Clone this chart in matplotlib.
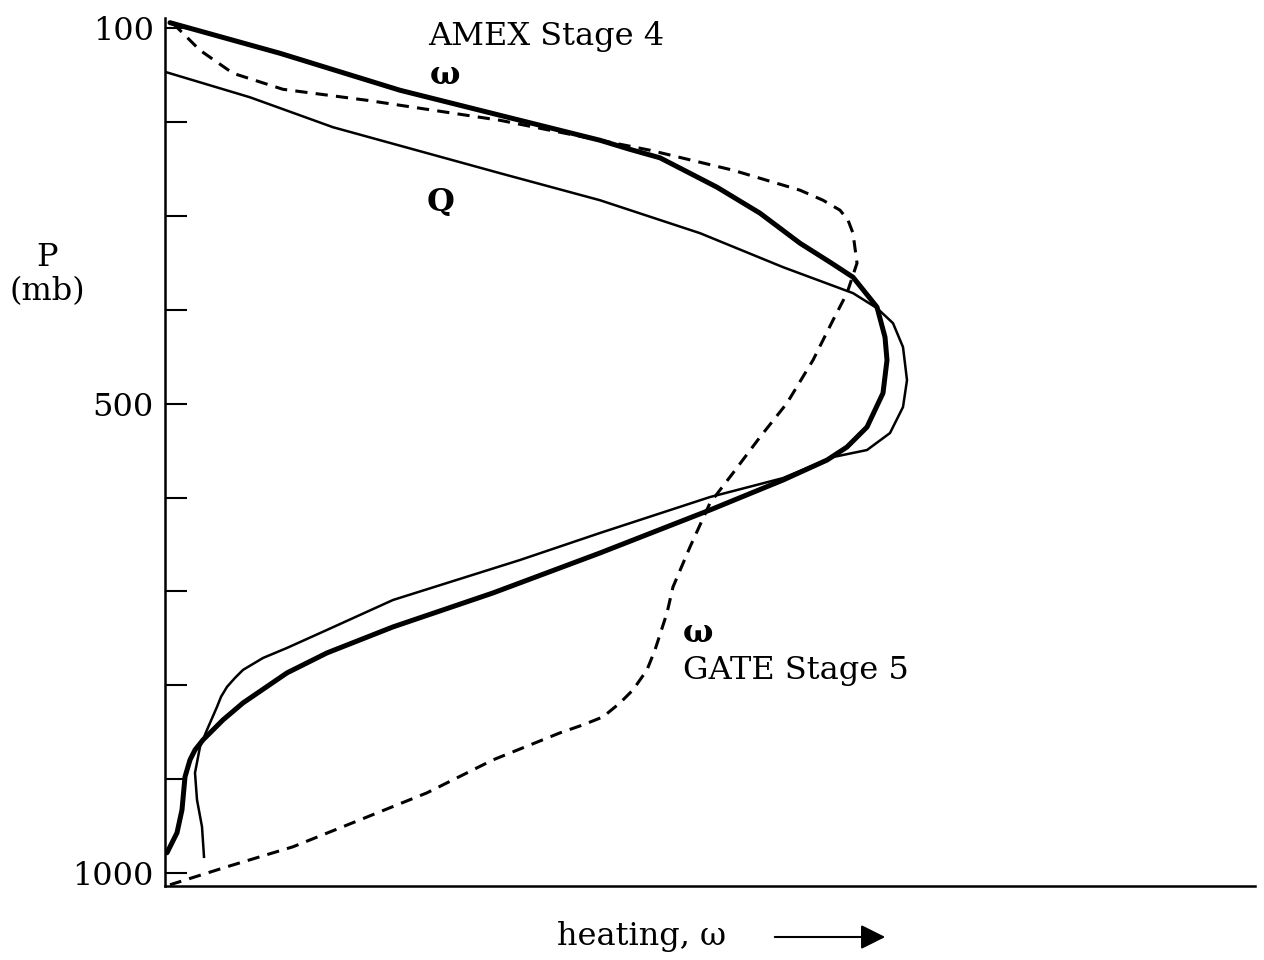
import numpy as np
import matplotlib
matplotlib.use("Agg")
import matplotlib.pyplot as plt

plt.rcParams['font.family'] = ['DejaVu Serif']

# AMEX stage 4 omega (thick solid)
amex_x = [0.03, 1.13, 2.33, 3.33, 4.33, 4.63, 4.93, 5.50, 5.93, 6.33, 6.63, 6.86, 7.10, 7.18, 7.20, 7.16, 7.00, 6.80,
          6.60, 6.16, 5.43, 4.33, 3.26, 2.26, 1.60, 1.20, 0.76, 0.56, 0.36, 0.28, 0.23, 0.18, 0.15, 0.10, 0.00]
amex_p = [94, 126.6, 166.0, 192.7, 219.3, 229.0, 238.0, 269.3, 297.0, 329.0, 349.2, 365.2, 397.1, 429.1, 453.6, 488.7, 524.9, 546.2,
          560.1, 581.4, 613.3, 659.1, 701.7, 737.9, 765.6, 786.9, 818.9, 837.0, 858.3, 869.0, 879.6, 897.7, 932.8, 957.3, 978.6]

# heating Q (thin solid)
q_x = [0.0, 0.83, 1.66, 3.33, 4.33, 5.33, 6.16, 6.86, 7.10, 7.26, 7.36, 7.40, 7.36, 7.23, 7.00, 6.66,
       6.16, 5.43, 4.33, 3.53, 2.26, 1.60, 1.20, 0.96, 0.76, 0.68, 0.60, 0.54, 0.50, 0.40, 0.33, 0.28, 0.30, 0.35, 0.37]
q_p = [147, 173.5, 205.4, 254.4, 283.2, 318.3, 354.5, 382.2, 398.2, 414.2, 439.7, 474.9, 503.6, 531.3, 549.4, 556.9,
       579.3, 599.5, 637.8, 666.6, 709.2, 741.1, 760.3, 771.0, 783.7, 792.2, 801.8, 812.4, 823.1, 847.6, 865.7, 893.4, 922.2, 950.9, 982.9]

# GATE stage 5 omega (dashed)
gate_x = [0.06, 0.33, 0.66, 1.16, 2.00, 3.33, 4.83, 5.66, 6.33, 6.56, 6.73, 6.81, 6.86, 6.90, 6.80, 6.66, 6.46, 6.20,
          5.93, 5.66, 5.43, 5.23, 5.06, 5.00, 4.88, 4.80, 4.66, 4.53, 4.36, 4.16, 3.93, 3.26, 2.60, 1.93, 1.26, 0.60, 0.03]
gate_p = [94.7, 123.4, 147.9, 165.0, 176.7, 198.0, 229.9, 251.2, 272.5, 283.2, 293.8, 304.4, 318.3, 350.3, 382.2, 411.0, 453.6, 499.4,
          535.6, 573.9, 605.9, 652.7, 695.3, 723.0, 762.4, 783.7, 805.0, 818.9, 833.8, 842.3, 850.8, 879.6, 914.7, 943.5, 972.2, 993.5, 1012.7]

p_ticks = [100, 200, 300, 400, 500, 600, 700, 800, 900, 1000]
p_labels = ['100', '', '', '', '500', '', '', '', '', '1000']

W, H = 1264, 960
fig = plt.figure(figsize=(W / 100, H / 100), dpi=100)
ax = fig.add_axes([165 / W, 1 - 886 / H, (1255 - 165) / W, (886 - 18) / H])

ax.plot(amex_x, amex_p, color='black', lw=3.6, solid_capstyle='round', solid_joinstyle='round')
ax.plot(q_x, q_p, color='black', lw=1.8, solid_joinstyle='round')
ax.plot(gate_x, gate_p, color='black', lw=2.2, linestyle=(0, (4, 2.7)))

ax.set_xlim(-0.02, 10.88)
ax.set_ylim(1014, 89)
ax.set_xticks([])
ax.set_yticks(p_ticks)
ax.set_yticklabels(p_labels, fontsize=23)
ax.tick_params(axis='y', direction='in', length=16, width=1.5, pad=8)
for s in ['top', 'right']:
    ax.spines[s].set_visible(False)
ax.spines['left'].set_linewidth(1.8)
ax.spines['bottom'].set_linewidth(1.8)


def ftext(px, py, s, **kw):
    fig.text(px / W, 1 - py / H, s, fontsize=23, **kw)


ftext(428, 36, 'AMEX Stage 4', va='center', ha='left')
ftext(430, 75, 'ω', va='center', ha='left', fontweight='bold')
ftext(427, 203, 'Q', va='center', ha='left', fontweight='bold')
ftext(683, 633, 'ω', va='center', ha='left', fontweight='bold')
ftext(683, 670, 'GATE Stage 5', va='center', ha='left')
ftext(47, 257, 'P', va='center', ha='center')
ftext(47, 292, '(mb)', va='center', ha='center')
ftext(557, 937, 'heating, ω', va='center', ha='left')

fig.add_artist(matplotlib.patches.FancyArrowPatch(
    (772 / W, 1 - 937 / H), (888 / W, 1 - 937 / H), transform=fig.transFigure,
    arrowstyle='-|>,head_length=10,head_width=5', color='black', lw=1.5, mutation_scale=1.5))

fig.savefig('out.png', dpi=100, facecolor='white')
